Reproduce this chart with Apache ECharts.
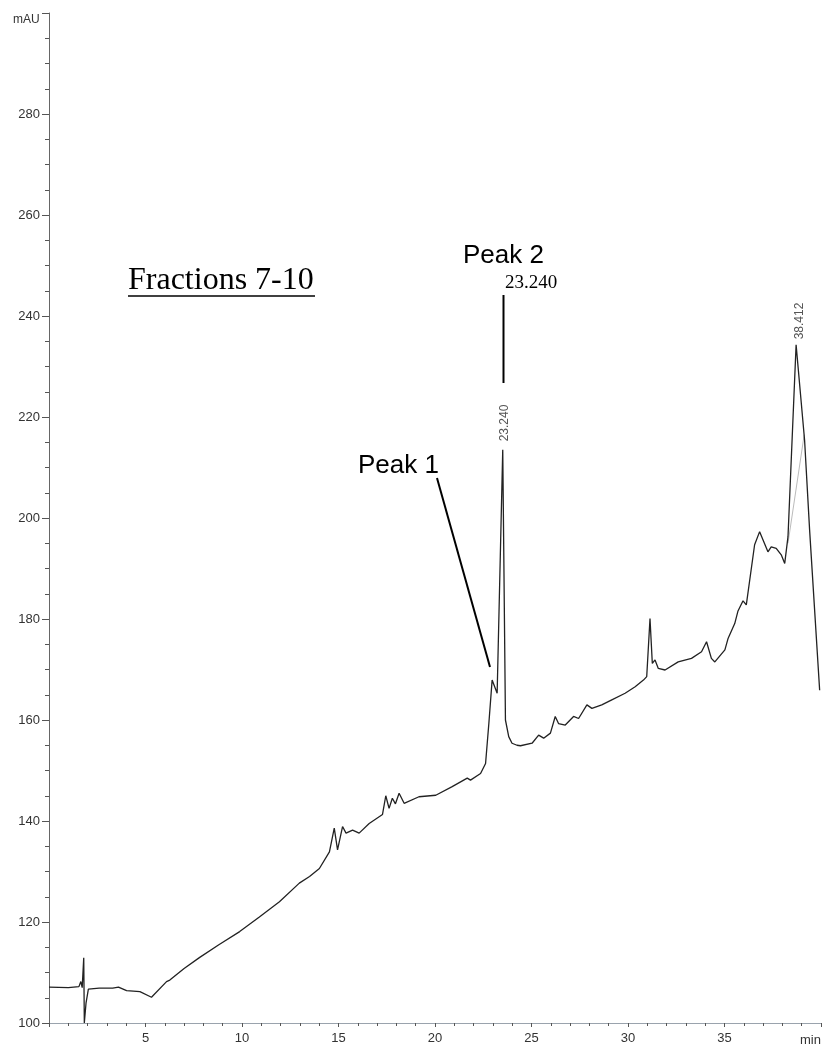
<!DOCTYPE html>
<html>
<head>
<meta charset="utf-8">
<script src="https://cdn.jsdelivr.net/npm/echarts@6/dist/echarts.min.js"></script>
<style>
html,body{margin:0;padding:0;background:#fff;}
#chart{width:824px;height:1048px;}
</style>
</head>
<body>
<div id="chart"></div>
<script>
// Retention time (min)
const times = [0, 1.0, 1.55, 1.65, 1.72, 1.80, 1.83, 1.92, 2.04, 2.6, 3.3, 3.6, 4.02, 4.71, 5.31, 6.09, 6.26, 7.0, 7.81, 8.8, 9.88, 10.9, 11.94, 12.97, 13.5, 14.01, 14.53, 14.78, 14.95, 15.21, 15.39, 15.73, 16.07, 16.59, 17.28, 17.45, 17.62, 17.79, 17.95, 18.14, 18.4, 19.17, 20.04, 20.89, 21.67, 21.84, 22.36, 22.62, 22.79, 22.96, 23.22, 23.51, 23.65, 23.82, 23.99, 24.25, 24.43, 25.03, 25.37, 25.63, 25.98, 26.23, 26.40, 26.75, 27.18, 27.44, 27.87, 28.13, 28.64, 29.16, 29.85, 30.37, 30.80, 30.97, 31.14, 31.26, 31.40, 31.57, 31.92, 32.6, 33.29, 33.81, 34.07, 34.32, 34.5, 35.02, 35.19, 35.53, 35.70, 35.96, 36.13, 36.56, 36.82, 37.25, 37.42, 37.68, 37.94, 38.12, 38.29, 38.71, 39.15, 39.41, 39.93];
// Absorbance (mAU)
const absorb = [107.1, 107.0, 107.2, 108.2, 107.0, 112.9, 100.0, 104.0, 106.7, 106.9, 106.9, 107.1, 106.4, 106.2, 105.1, 108.2, 108.5, 110.8, 113.0, 115.5, 118.1, 121.0, 124.0, 127.7, 129.0, 130.6, 133.9, 138.6, 134.3, 138.9, 137.6, 138.2, 137.6, 139.5, 141.3, 145.0, 142.5, 144.5, 143.4, 145.5, 143.5, 144.8, 145.1, 146.8, 148.5, 148.1, 149.4, 151.4, 159.3, 167.9, 165.3, 213.5, 160.0, 156.7, 155.4, 155.0, 154.9, 155.4, 157.0, 156.4, 157.4, 160.7, 159.3, 159.0, 160.7, 160.3, 163.0, 162.3, 163.0, 164.0, 165.3, 166.6, 167.9, 168.6, 180.1, 171.2, 171.9, 170.2, 169.9, 171.5, 172.2, 173.5, 175.5, 172.2, 171.5, 173.9, 176.2, 179.1, 181.6, 183.6, 182.8, 194.7, 197.3, 193.3, 194.3, 194.0, 192.7, 191.0, 196.3, 234.3, 215.4, 197.6, 165.9];
// faint second trace near the last peak
const overlayTimes = [38.29, 39.13];
const overlayAbsorb = [195.0, 216.5];

const xTicks = [5, 10, 15, 20, 25, 30, 35];
const yTicks = [100, 120, 140, 160, 180, 200, 220, 240, 260, 280];
const peakLabels = ['23.240', '38.412'];

const chart = echarts.init(document.getElementById('chart'), null, {renderer: 'canvas'});
const sans = 'Liberation Sans, Arial, sans-serif';
const serif = 'Liberation Serif, Times New Roman, serif';

chart.setOption({
  animation: false,
  backgroundColor: '#fff',
  grid: {left: 49, right: 1, top: 13, bottom: 25, containLabel: false},
  xAxis: {
    type: 'value', min: 0, max: 40, interval: 5,
    axisLine: {show: true, onZero: false, lineStyle: {color: '#9aa3ad', width: 1}},
    axisTick: {show: true, length: 4, lineStyle: {color: '#555'}},
    minorTick: {show: true, splitNumber: 5, length: 3, lineStyle: {color: '#555'}},
    splitLine: {show: false},
    axisLabel: {
      margin: 9, fontSize: 13, color: '#333', fontFamily: sans,
      formatter: v => xTicks.includes(v) ? String(v) : ''
    }
  },
  yAxis: {
    type: 'value', min: 100, max: 300, interval: 20,
    axisLine: {show: true, onZero: false, lineStyle: {color: '#666', width: 1}},
    axisTick: {show: true, length: 7, lineStyle: {color: '#555'}},
    minorTick: {show: true, splitNumber: 4, length: 4, lineStyle: {color: '#555'}},
    splitLine: {show: false},
    axisLabel: {
      margin: 9, fontSize: 13, color: '#333', fontFamily: sans,
      formatter: v => yTicks.includes(v) ? String(v) : ''
    }
  },
  series: [
    {
      type: 'line', showSymbol: false, symbol: 'none', smooth: false,
      lineStyle: {color: '#222', width: 1.3},
      data: times.map((t, i) => [t, absorb[i]]),
      z: 3
    },
    {
      type: 'line', showSymbol: false, symbol: 'none',
      lineStyle: {color: '#bbb', width: 1},
      data: overlayTimes.map((t, i) => [t, overlayAbsorb[i]]),
      z: 2
    }
  ],
  graphic: [
    {type: 'text', x: 13, y: 14, style: {text: 'mAU', font: '12px ' + sans, fill: '#333'}},
    {type: 'text', x: 800, y: 1034, style: {text: 'min', font: '13px ' + sans, fill: '#333'}},
    {type: 'text', x: 128, y: 265, style: {text: 'Fractions 7-10', font: '32px ' + serif, fill: '#000'}},
    {type: 'line', shape: {x1: 128, y1: 296, x2: 315, y2: 296}, style: {stroke: '#000', lineWidth: 1.5}},
    {type: 'text', x: 463, y: 243, style: {text: 'Peak 2', font: '26px ' + sans, fill: '#000'}},
    {type: 'text', x: 505, y: 274, style: {text: '23.240', font: '19px ' + serif, fill: '#000'}},
    {type: 'line', shape: {x1: 503.5, y1: 295, x2: 503.5, y2: 383}, style: {stroke: '#000', lineWidth: 2}},
    {type: 'text', x: 358, y: 453, style: {text: 'Peak 1', font: '26px ' + sans, fill: '#000'}},
    {type: 'line', shape: {x1: 437, y1: 478, x2: 490, y2: 667}, style: {stroke: '#000', lineWidth: 2}},
    {type: 'text', x: 505, y: 423, rotation: Math.PI / 2,
      style: {text: peakLabels[0], font: '12px ' + sans, fill: '#555', align: 'center', verticalAlign: 'middle'}},
    {type: 'text', x: 800, y: 321, rotation: Math.PI / 2,
      style: {text: peakLabels[1], font: '12px ' + sans, fill: '#555', align: 'center', verticalAlign: 'middle'}}
  ]
});
</script>
</body>
</html>
